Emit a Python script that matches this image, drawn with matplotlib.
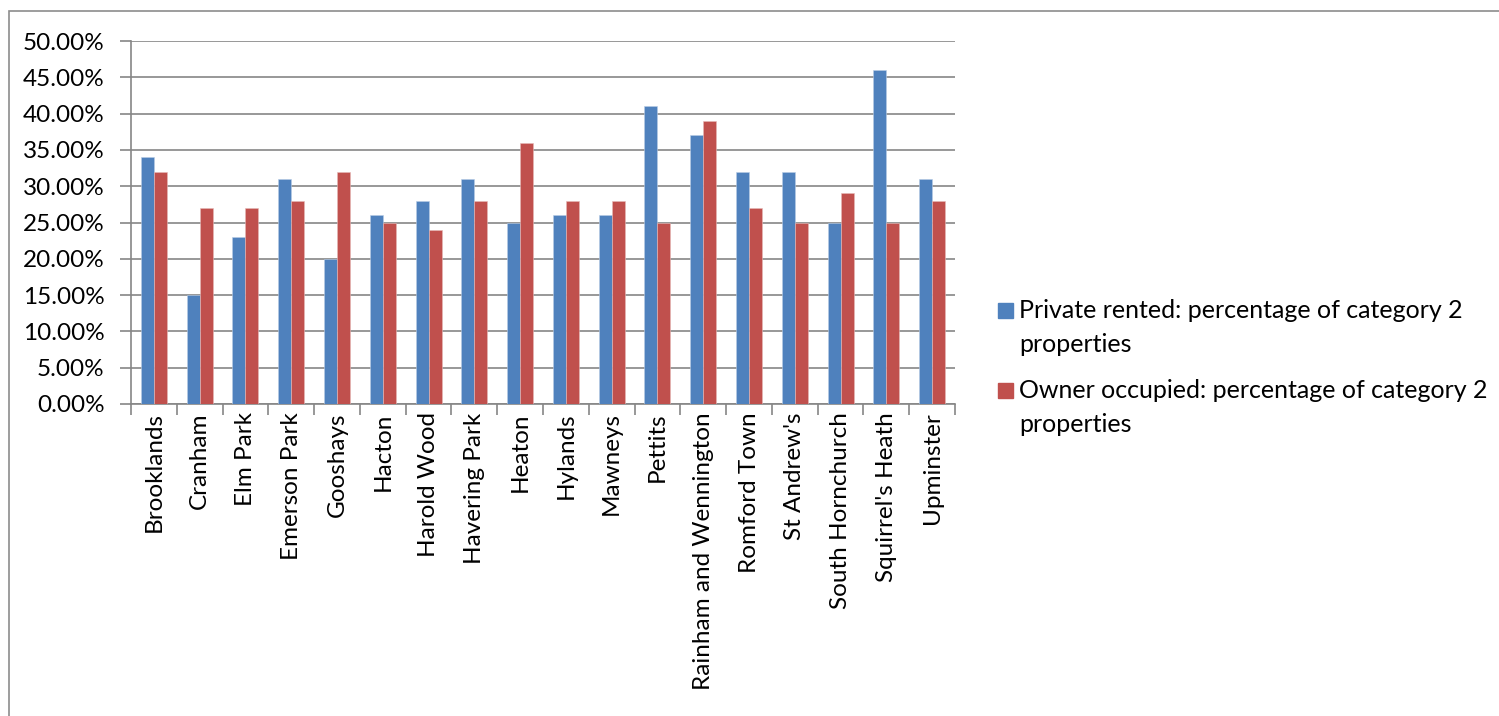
import numpy as np
import matplotlib
matplotlib.use("Agg")
import matplotlib.pyplot as plt
from matplotlib.patches import Rectangle
from matplotlib.ticker import FuncFormatter

##############################################################################
# data

wards = ["Brooklands", "Cranham", "Elm Park", "Emerson Park", "Gooshays",
         "Hacton", "Harold Wood", "Havering Park", "Heaton", "Hylands",
         "Mawneys", "Pettits", "Rainham and Wennington", "Romford Town",
         "St Andrew's", "South Hornchurch", "Squirrel's Heath", "Upminster"]

private_rented = [0.34, 0.15, 0.23, 0.31, 0.20, 0.26, 0.28, 0.31, 0.25,
                  0.26, 0.26, 0.41, 0.37, 0.32, 0.32, 0.25, 0.46, 0.31]
owner_occupied = [0.32, 0.27, 0.27, 0.28, 0.32, 0.25, 0.24, 0.28, 0.36,
                  0.28, 0.28, 0.25, 0.39, 0.27, 0.25, 0.29, 0.25, 0.28]

series_labels = ["Private rented: percentage of category 2\nproperties",
                 "Owner occupied: percentage of category 2\nproperties"]

##############################################################################
# matplotlib configuration

fontsize = 17.5
plt.rcParams.update({
    'font.family': ['Lato', 'DejaVu Sans'],
    'font.size': fontsize,
})

blue = '#4F81BD'
red = '#C0504D'
grid = '#868686'
colors = [blue, red]

W, H = 1499, 716
fig = plt.figure(figsize=(W / 100, H / 100), dpi=100)


def px(x, y):
    # pixel position (from top left) to figure fraction
    return x / W, 1 - y / H


# chart border (runs off the right and bottom edges)
fig.patches.append(Rectangle((9 / W, -0.01), 1.2, 1 - 11 / H + 0.01,
                             transform=fig.transFigure, fill=False,
                             edgecolor='#8c8c8c', linewidth=1.2))

ax = fig.add_axes([131 / W, 1 - 404 / H, (955 - 131) / W, (404 - 41) / H])

x = np.arange(len(wards))
bw = 0.285
ax.bar(x - bw / 2, private_rented, bw, color=blue, edgecolor='#b9cde5',
       linewidth=0.4, zorder=3)
ax.bar(x + bw / 2, owner_occupied, bw, color=red, edgecolor='#e6b9b8',
       linewidth=0.4, zorder=3)

ax.set_xlim(-0.5, len(wards) - 0.5)
ax.set_ylim(0, 0.5)
ax.set_yticks(np.arange(0, 0.501, 0.05))
ax.yaxis.set_major_formatter(FuncFormatter(lambda v, p: "%.2f%%" % (v * 100)))
ax.yaxis.grid(True, color=grid, linewidth=1.2, zorder=0)

ax.set_xticks(np.arange(-0.5, len(wards), 1.0), minor=False)
ax.set_xticklabels([])
ax.set_xticks(x, minor=True)
ax.set_xticklabels(wards, minor=True, rotation=90, va='top', ha='center')
ax.tick_params(axis='x', which='major', length=8, width=1.2, color=grid,
               direction='out')
ax.tick_params(axis='x', which='minor', length=0, pad=6)
ax.tick_params(axis='y', length=8, width=1.2, color=grid, direction='out',
               pad=11)

for side in ['top', 'right']:
    ax.spines[side].set_visible(False)
for side in ['left', 'bottom']:
    ax.spines[side].set_color(grid)
    ax.spines[side].set_linewidth(1.2)

# legend drawn by hand: square key next to the first line of each label
for i, (label, col) in enumerate(zip(series_labels, colors)):
    base = 318 + i * 80
    x0, y0 = px(998, base)
    fig.patches.append(Rectangle((x0, y0), 15 / W, 15 / H,
                                 transform=fig.transFigure, color=col))
    for j, line in enumerate(label.split("\n")):
        fig.text(*px(1019, base + j * 34), line, fontsize=18,
                 va='baseline', ha='left')

fig.savefig("out.png", dpi=100)
